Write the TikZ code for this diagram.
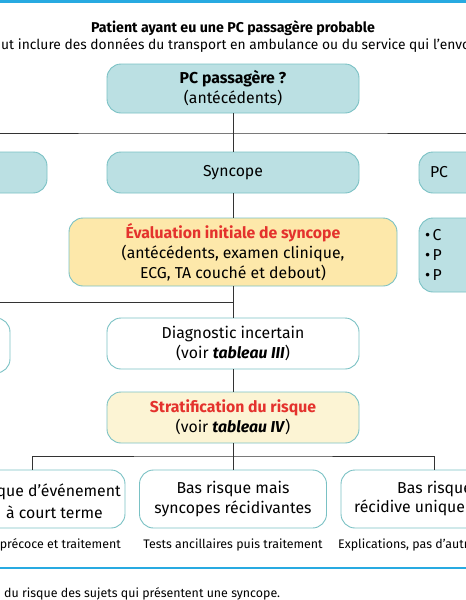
\documentclass[tikz,border=0pt]{standalone}
\usepackage{fontspec}
\setmainfont{Fira Sans}
\usepackage{xcolor}
\usetikzlibrary{positioning, calc}

\definecolor{tealfill}{RGB}{187,224,227}
\definecolor{tealline}{RGB}{122,193,196}
\definecolor{yellowfill}{RGB}{253,232,170}
\definecolor{creamfill}{RGB}{252,244,212}
\definecolor{alertred}{RGB}{228,50,45}
\definecolor{rulebleu}{RGB}{40,170,225}

\begin{document}
\begin{tikzpicture}[
      x=1pt, y=-1pt,
      tealbox/.style={draw=tealline, fill=tealfill, rounded corners=14pt, line width=0.9pt,
        minimum width=252pt, inner sep=0pt, align=center, font=\fontsize{15.8}{20}\selectfont},
      whitebox/.style={tealbox, fill=white},
      boxtxt/.style={font=\fontsize{15.8}{20}\selectfont, inner sep=0pt},
      smalltxt/.style={font=\fontsize{12.4}{14}\selectfont, inner sep=0pt},
      link/.style={line width=1pt, black!80}
    ]
    \useasboundingbox (0,0) rectangle (466,600);
    \clip (0,0) rectangle (466,600);

    % Blue rules
    \draw[rulebleu, line width=2.5pt] (0,1.5) -- (466,1.5);
    \draw[rulebleu, line width=2pt] (0,568) -- (466,568);

    % Heading
    \node[font=\fontsize{14.2}{16}\selectfont\bfseries, inner sep=0pt] (head) at (233,28) {Patient ayant eu une PC passagère probable};
    \node[font=\fontsize{13.8}{16}\selectfont, inner sep=0pt, anchor=west] (subhead) at (1,45) {ut inclure des données du transport en ambulance ou du service qui l'envo};

    % First row
    \node[tealbox, minimum height=49pt] (pc) at (233,88.5) {\textbf{PC passagère ?}\\(antécédents)};
    \node[tealbox, minimum height=41pt] (lb2) at (-79,172.5) {};
    \node[tealbox, minimum height=41pt] (syn) at (233,172.5) {Syncope};
    \node[tealbox, minimum height=41pt, text width=230pt, align=left, inner xsep=11pt] (rb2) at (545,172.5) {PC};

    % Second row
    \node[tealbox, fill=yellowfill, minimum width=328pt, minimum height=68pt] (eval) at (233,252)
      {\textcolor{alertred}{\textbf{Évaluation initiale de syncope}}\\(antécédents, examen clinique,\\ECG, TA couché et debout)};
    \node[tealbox, minimum height=74pt, text width=240pt, align=left, inner xsep=6pt] (rb3) at (545,255)
      {\textbullet\,C\\\textbullet\,P\\\textbullet\,P};

    % Third row
    \node[whitebox, minimum width=250pt, minimum height=55pt] (lb4) at (-115,345.5) {};
    \node[whitebox, minimum height=51pt] (diag) at (233,343.5) {Diagnostic incertain\\(voir \textbf{\textit{tableau III}})};
    \node[tealbox, fill=creamfill, minimum height=51pt] (strat) at (233,417.5)
      {\textcolor{alertred}{\textbf{Stratification du risque}}\\(voir \textbf{\textit{tableau IV}})};

    % Bottom row
    \node[whitebox, minimum width=186pt, minimum height=58pt] (low1) at (32,499) {};
    \node[whitebox, minimum width=187pt, minimum height=58pt] (low2) at (233,499) {Bas risque mais\\syncopes récidivantes};
    \node[whitebox, minimum width=186pt, minimum height=58pt] (low3) at (434,499) {};
    \node[boxtxt, anchor=east] (low1a) at (121,492) {que d'événement};
    \node[boxtxt, anchor=east] (low1b) at (103,512) {à court terme};
    \node[boxtxt, anchor=west] (low3a) at (397,489) {Bas risque};
    \node[boxtxt, anchor=west] (low3b) at (354,508) {récidive unique};

    % Notes under the boxes
    \node[smalltxt, anchor=east] (note1) at (121,545) {précoce et traitement};
    \node[smalltxt] (note2) at (233,545) {Tests ancillaires puis traitement};
    \node[smalltxt, anchor=west] (note3) at (338,545) {Explications, pas d'autr};
    \node[smalltxt, anchor=west] (caption) at (4,594) {du risque des sujets qui présentent une syncope.};

    % Connectors
    \coordinate (bus1) at (233,133);
    \coordinate (bus2) at (233,302);
    \coordinate (bus3) at (233,456);
    \draw[link] (pc) -- (syn);
    \draw[link] (lb2.north) |- (bus1) -| (rb2.north);
    \draw[link] (syn) -- (eval);
    \draw[link] (eval) -- (diag);
    \draw[link] (bus2) -| (lb4.north);
    \draw[link] (diag) -- (strat);
    \draw[link] (strat) -- (low2);
    \draw[link] (low1.north) |- (bus3) -| (low3.north);
  \end{tikzpicture}
\end{document}
